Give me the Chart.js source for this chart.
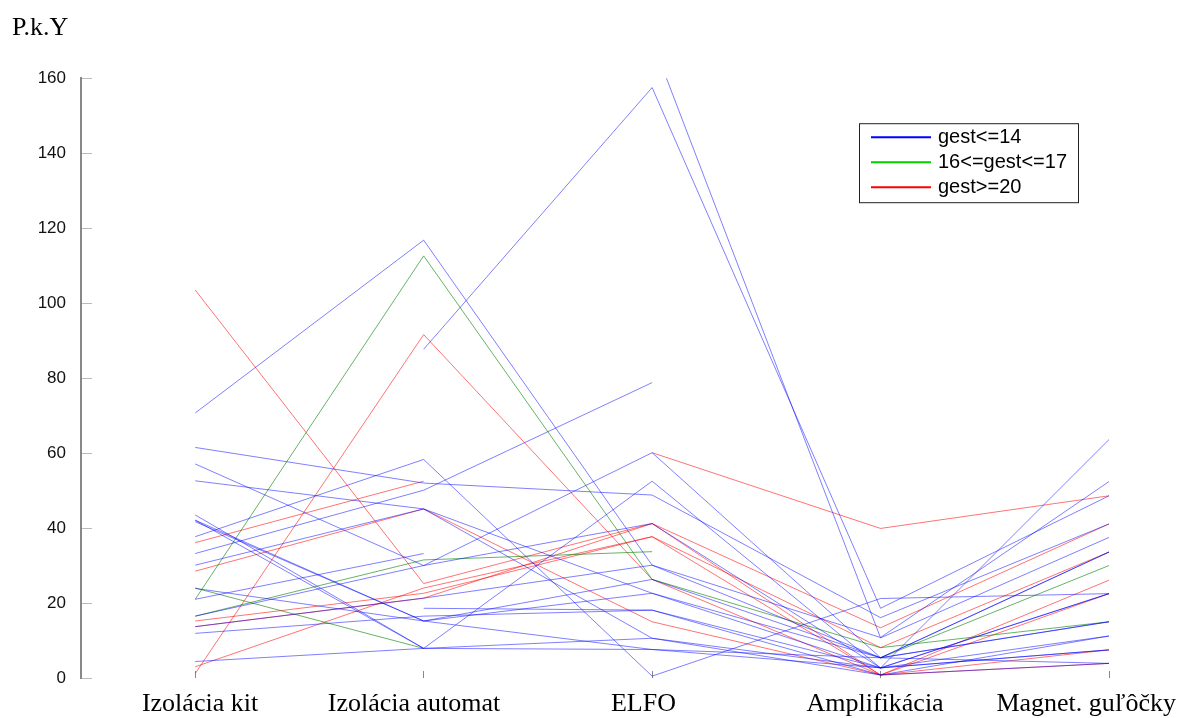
<!DOCTYPE html>
<html>
<head>
<meta charset="utf-8">
<script src="https://cdn.jsdelivr.net/npm/chart.js@4.4.1/dist/chart.umd.min.js"></script>
<style>
  html, body { margin: 0; padding: 0; background: #fff; }
  #wrap { width: 1186px; height: 718px; }
</style>
</head>
<body>
<div id="wrap"><canvas id="c" width="1186" height="718"></canvas></div>
<script>
// Axes of the parallel-coordinate plot
const categories = ['Izolácia kit', 'Izolácia automat', 'ELFO', 'Amplifikácia', 'Magnet. guľôčky'];
const yTicks = [0, 20, 40, 60, 80, 100, 120, 140, 160];
const groupLabels = ['gest<=14', '16<=gest<=17', 'gest>=20'];

// One row per sample: values on the five axes (null = missing)
const gestLow = [
  [70.7, 116.8, 30.1, 10.8, 52.4],
  [null, 87.7, 157.5, 18.6, 48.6],
  [null, null, 170.0, 10.7, 37.5],
  [61.5, 52.0, 48.8, 16.1, 41.1],
  [57.1, 30.0, 60.1, 5.4, 33.6],
  [52.6, 45.1, 22.6, 2.7, 63.6],
  [43.5, 7.9, 52.5, 2.7, 22.5],
  [42.1, 15.2, 26.3, 5.4, 15.0],
  [42.1, 7.9, 10.6, 2.7, 11.2],
  [41.7, 15.2, 22.6, 5.4, 33.6],
  [37.7, 58.3, 0.5, 21.2, 22.5],
  [33.2, 50.1, 78.8, null, null],
  [30.1, 45.1, 10.6, 0.8, 11.2],
  [23.9, 15.2, 7.6, 5.4, 15.0],
  [21.0, 33.2, null, null, null],
  [16.5, 30.0, 41.2, 2.7, 7.5],
  [13.7, 21.3, 30.1, 5.4, 3.9],
  [11.9, 16.5, 18.1, 0.8, 3.9],
  [4.4, 7.9, 7.6, 2.7, 22.5],
  [null, 18.6, 18.1, 2.7, 7.5]
];
const gestMid = [
  [21.0, 112.6, 26.3, 8.1, 15.0],
  [24.0, 7.9, null, null, null],
  [16.5, 31.5, 33.7, null, null],
  [null, null, null, 5.4, 30.0]
];
const gestHigh = [
  [103.5, 25.2, 41.2, 13.4, 41.1],
  [1.2, 91.6, 26.3, 0.8, 26.1],
  [36.1, 52.5, null, null, null],
  [28.5, 45.1, 15.0, 0.8, 22.5],
  [15.2, 22.6, 37.7, 8.1, 33.6],
  [13.7, 21.3, 41.2, 0.8, 7.5],
  [3.0, 24.0, 37.7, 0.8, 3.9],
  [null, null, 60.1, 39.9, 48.6]
];

// Axis names sit slightly off their axis lines (shift in axis units)
const labelShift = [0.021, -0.042, -0.038, -0.024, -0.10];

const groups = [
  { rows: gestLow,  line: 'rgba(0,0,255,0.5)',   key: '#0000ff' },
  { rows: gestMid,  line: 'rgba(0,128,0,0.6)',   key: '#00d000' },
  { rows: gestHigh, line: 'rgba(255,0,0,0.55)',  key: '#ff0000' }
];

const datasets = [];
groups.forEach((g, gi) => {
  g.rows.forEach(row => {
    datasets.push({
      label: groupLabels[gi],
      xAxisID: 'x',
      data: row.map((v, i) => ({ x: i + 1, y: v })),
      borderColor: g.line,
      borderWidth: 1,
      pointRadius: 0,
      tension: 0,
      spanGaps: false,
      clip: { left: 5, top: 0, right: 5, bottom: 5 }
    });
  });
});

// Boxed key in the upper right of the plot
const boxLegend = {
  id: 'boxLegend',
  afterDraw(chart) {
    const { ctx, chartArea } = chart;
    const x = chartArea.right - 250, y = chartArea.top + 45, w = 219, h = 79;
    ctx.save();
    ctx.fillStyle = '#fff';
    ctx.fillRect(x, y, w, h);
    ctx.strokeStyle = '#222';
    ctx.lineWidth = 1;
    ctx.strokeRect(x + 0.5, y + 0.5, w, h);
    ctx.font = '20px "Liberation Sans", Arial, sans-serif';
    ctx.textBaseline = 'middle';
    groups.forEach((g, i) => {
      const ly = y + 14 + i * 25;
      ctx.strokeStyle = g.key;
      ctx.lineWidth = 2;
      ctx.beginPath();
      ctx.moveTo(x + 12, ly);
      ctx.lineTo(x + 72, ly);
      ctx.stroke();
      ctx.fillStyle = '#000';
      ctx.fillText(groupLabels[i], x + 79, ly);
    });
    ctx.restore();
  }
};

const serif = '"Liberation Serif", "Times New Roman", serif';

new Chart(document.getElementById('c'), {
  type: 'line',
  data: { datasets },
  plugins: [boxLegend],
  options: {
    responsive: false,
    animation: false,
    layout: { padding: { left: 12, top: 0, right: 77, bottom: 0 } },
    plugins: {
      legend: { display: false },
      tooltip: { enabled: false },
      title: {
        display: true,
        text: 'P.k.Y',
        align: 'start',
        color: '#000',
        font: { family: serif, size: 26, weight: 'normal' },
        padding: { top: 13, bottom: 34 }
      }
    },
    scales: {
      // axis lines: short inner tick marks at each variable
      x: {
        type: 'linear',
        position: 'bottom',
        weight: 0,
        min: 0.5,
        max: 5,
        afterBuildTicks: s => { s.ticks = categories.map((_, i) => ({ value: i + 1 })); },
        afterFit: s => { s.height = 0; },
        ticks: { display: false },
        grid: { display: true, drawOnChartArea: false, drawTicks: true, tickLength: -7, color: '#888' },
        border: { display: false }
      },
      // variable names
      xNames: {
        type: 'linear',
        position: 'bottom',
        weight: 1,
        min: 0.5,
        max: 5,
        afterBuildTicks: s => { s.ticks = categories.map((_, i) => ({ value: i + 1 + labelShift[i] })); },
        afterFit: s => { s.height = 40; },
        ticks: {
          autoSkip: false,
          maxRotation: 0,
          padding: 3,
          color: '#000',
          font: { family: serif, size: 26 },
          callback: (v, i) => categories[i]
        },
        grid: { display: false },
        border: { display: false }
      },
      y: {
        min: 0,
        max: 160,
        afterBuildTicks: s => { s.ticks = yTicks.map(v => ({ value: v })); },
        afterFit: s => { s.width = 69; },
        ticks: {
          padding: 26,
          color: '#111',
          font: { family: '"Liberation Sans", Arial, sans-serif', size: 17 }
        },
        grid: { display: true, drawOnChartArea: false, drawTicks: true, tickLength: -11, color: '#bbb' },
        border: { display: true, color: '#888', width: 2 }
      }
    }
  }
});
</script>
</body>
</html>
